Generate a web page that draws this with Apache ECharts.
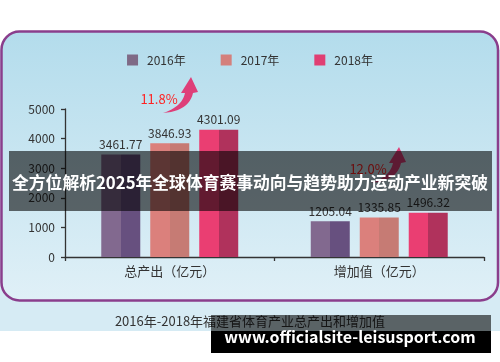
<!DOCTYPE html>
<html><head><meta charset="utf-8">
<script src="https://cdn.jsdelivr.net/npm/echarts@6/dist/echarts.min.js"></script>
<style>html,body{margin:0;padding:0;background:#fff}#c{width:500px;height:362px}</style>
</head><body><div id="c"></div>
<script>
const categories = ['总产出（亿元）', '增加值（亿元）'];
const years = ['2016年', '2017年', '2018年'];
const values2016 = [3461.77, 1205.04];
const values2017 = [3846.93, 1335.85];
const values2018 = [4301.09, 1496.32];
const yMin = 0, yMax = 5000, yInterval = 1000;
const growthLabels = ['11.8%', '12.0%'];
const overlayTitle = '全方位解析2025年全球体育赛事动向与趋势助力运动产业新突破';
const caption = '2016年-2018年福建省体育产业总产出和增加值';
const watermark = 'www.officialsite-leisusport.com';

const FONT = '"Noto Sans CJK SC","Noto Sans",sans-serif';
const seriesColors = [
  ['#82698f', '#67507f', '#7f6a86'],
  ['#db807c', '#c67b74', '#d4807c'],
  ['#ea3e72', '#b0325c', '#e03f73']
];
function twoTone(l, r) {
  return {type: 'linear', x: 0, y: 0, x2: 1, y2: 0,
    colorStops: [{offset: 0, color: l}, {offset: 0.5, color: l}, {offset: 0.5, color: r}, {offset: 1, color: r}]};
}
function quad(p0, c, p1, n) {
  const pts = [];
  for (let i = 0; i <= n; i++) {
    const t = i / n;
    pts.push([(1 - t) * (1 - t) * p0[0] + 2 * (1 - t) * t * c[0] + t * t * p1[0],
              (1 - t) * (1 - t) * p0[1] + 2 * (1 - t) * t * c[1] + t * t * p1[1]]);
  }
  return pts;
}
function arrow(dx, dy, color, z) {
  const T = [163 + dx, 113 + dy];
  let pts = quad(T, [189 + dx, 111 + dy], [193 + dx, 93 + dy], 12);
  pts.push([198 + dx, 92 + dy], [191 + dx, 77 + dy], [181 + dx, 93 + dy]);
  pts = pts.concat(quad([185 + dx, 93 + dy], [182 + dx, 107 + dy], T, 12));
  return {type: 'polygon', z: z, shape: {points: pts}, style: {fill: color}};
}

const datasets = [values2016, values2017, values2018];
const series = years.map((y, i) => ({
  name: y, type: 'bar', data: datasets[i], barWidth: 39, barGap: '25.6%',
  itemStyle: {color: twoTone(seriesColors[i][0], seriesColors[i][1])},
  label: {show: true, position: 'top', distance: 4, color: '#333', fontSize: 12, fontFamily: FONT,
    formatter: p => p.value.toFixed(2)}
}));

const chart = echarts.init(document.getElementById('c'), null, {renderer: 'canvas'});
chart.setOption({
  animation: false,
  backgroundColor: '#fff',
  textStyle: {fontFamily: FONT},
  legend: {
    data: years.map((y, i) => ({name: y, itemStyle: {color: seriesColors[i][2]}})),
    top: 49, left: 'center', itemWidth: 11, itemHeight: 11, itemGap: 35, icon: 'rect',
    textStyle: {fontSize: 12, color: '#333', fontFamily: FONT, padding: [0, 0, 0, 4]}
  },
  grid: {left: 65, right: 16, top: 109, bottom: 105, containLabel: false},
  xAxis: {
    type: 'category', data: categories,
    axisLine: {lineStyle: {color: '#333', width: 1.3}},
    axisTick: {show: true, length: 4, lineStyle: {color: '#333', width: 1.3}},
    axisLabel: {color: '#333', fontSize: 13, margin: 8, fontFamily: FONT}
  },
  yAxis: {
    type: 'value', min: yMin, max: yMax, interval: yInterval,
    axisLine: {show: true, lineStyle: {color: '#333', width: 1.3}},
    axisTick: {show: true, length: 4, lineStyle: {color: '#333', width: 1.3}},
    splitLine: {show: false},
    axisLabel: {color: '#333', fontSize: 12, margin: 10, fontFamily: FONT, formatter: v => String(v)}
  },
  series: series,
  graphic: [
    {type: 'rect', z: -20, silent: true, shape: {x: 0, y: 50, width: 500, height: 281},
      style: {fill: '#d6ebf4'}},
    {type: 'rect', z: -19, silent: true, shape: {x: 1.5, y: 31.5, width: 496.5, height: 269, r: 18},
      style: {fill: {type: 'linear', x: 0, y: 0, x2: 0, y2: 1,
        colorStops: [{offset: 0, color: '#b3dcec'}, {offset: 1, color: '#e0f0f7'}]},
        stroke: '#8a3e8c', lineWidth: 2.5}},
    {type: 'text', z: 5, style: {x: 250, y: 321, text: caption, fill: '#333', font: '13px ' + FONT,
      textAlign: 'center', textVerticalAlign: 'middle'}},
    arrow(0, 0, '#de3f79', 5),
    arrow(208, 70, '#de3f79', 5),
    {type: 'text', z: 5, style: {x: 159, y: 99, text: growthLabels[0], fill: '#ff2222', font: '13px ' + FONT,
      textAlign: 'center', textVerticalAlign: 'middle'}},
    {type: 'text', z: 5, style: {x: 368, y: 169, text: growthLabels[1], fill: '#ff2222', font: '13px ' + FONT,
      textAlign: 'center', textVerticalAlign: 'middle'}},
    {type: 'rect', z: 100, silent: true, shape: {x: 9, y: 151, width: 483, height: 60},
      style: {fill: 'rgba(0,0,0,0.58)'}},
    {type: 'text', z: 101, style: {x: 250, y: 183, text: overlayTitle, fill: '#fff',
      font: 'bold 16.8px ' + FONT, textAlign: 'center', textVerticalAlign: 'middle'}},
    {type: 'rect', z: 100, silent: true, shape: {x: 211, y: 315, width: 280, height: 16},
      style: {fill: 'rgba(0,0,0,0.58)'}},
    {type: 'rect', z: 100, silent: true, shape: {x: 211, y: 331, width: 280, height: 22},
      style: {fill: '#000'}},
    {type: 'text', z: 101, style: {x: 350, y: 337, text: watermark, fill: '#fff',
      font: 'bold 16px ' + FONT, textAlign: 'center', textVerticalAlign: 'middle'}}
  ]
});
</script></body></html>
